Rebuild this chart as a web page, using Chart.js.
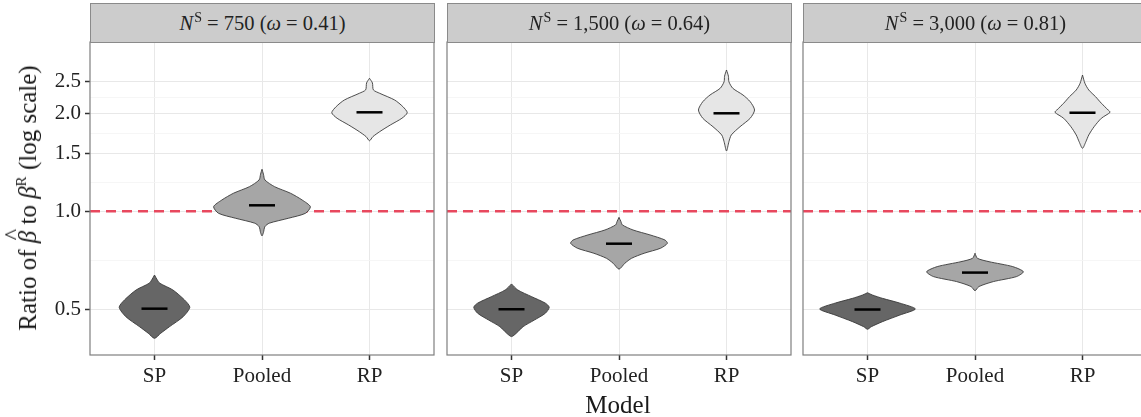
<!DOCTYPE html>
<html>
<head>
<meta charset="utf-8">
<script src="https://cdn.jsdelivr.net/npm/chart.js@4"></script>
<style>
body{margin:0;background:#fff}
#wrap{position:relative;width:1141px;height:417px;overflow:hidden;font-family:"Liberation Serif",serif;color:#1a1a1a}
canvas{position:absolute;top:0}
.strip{position:absolute;top:3px;height:40px;box-sizing:border-box;background:#cccccc;border:1px solid #8a8a8a;font-size:20.5px;text-align:center;line-height:38px;color:#222}
.strip sup{font-size:14px;vertical-align:0;position:relative;top:-8px;margin-left:1px}
#ytitle{position:absolute;left:28px;top:198px;transform:translate(-50%,-50%) rotate(-90deg);white-space:nowrap;font-size:25px}
#ytitle sup{font-size:15px;vertical-align:0;position:relative;top:-10px}
.hat{position:relative;display:inline-block}
.hat .h{position:absolute;left:3px;top:-15px;font-style:normal;font-size:24px}
#xtitle{position:absolute;left:618px;top:405px;transform:translate(-50%,-50%);font-size:25px}
</style>
</head>
<body>
<div id="wrap">
  <canvas id="c0" width="436" height="417" style="left:0"></canvas>
  <canvas id="c1" width="352" height="417" style="left:441px"></canvas>
  <canvas id="c2" width="352" height="417" style="left:797px"></canvas>
  <div class="strip" style="left:90px;width:345px"></div>
  <div class="strip" style="left:447px;width:345px"></div>
  <div class="strip" style="left:803px;width:345px"></div>
  <div id="ytitle">Ratio of <span class="hat"><i>β</i><span class="h">^</span></span> to <i>β</i><sup>R</sup> (log scale)</div>
  <div id="xtitle">Model</div>
</div>
<script>
const categories = ['SP', 'Pooled', 'RP'];
const sampleSizes = ['750', '1,500', '3,000'];
const omegas = ['0.41', '0.64', '0.81'];
const yTickLabels = [0.5, 1.0, 1.5, 2.0, 2.5];
const refLine = 1.0;

// medians per panel (SP, Pooled, RP)
const medians750 = [0.502, 1.043, 2.014];
const medians1500 = [0.500, 0.795, 2.000];
const medians3000 = [0.499, 0.648, 2.008];

// violin outlines: [ratio, relative width]
const sp750 = [[0.637,0],[0.618,0.05],[0.601,0.11],[0.573,0.38],[0.534,0.62],[0.507,0.73],[0.474,0.59],[0.442,0.31],[0.422,0.13],[0.407,0]];
const pooled750 = [[1.346,0],[1.30,0.03],[1.248,0.06],[1.19,0.26],[1.136,0.59],[1.083,0.83],[1.033,1.0],[0.986,0.9],[0.952,0.55],[0.919,0.15],[0.897,0.06],[0.86,0.03],[0.840,0]];
const rp750 = [[2.562,0],[2.48,0.06],[2.36,0.08],[2.304,0.21],[2.197,0.52],[2.096,0.69],[2.008,0.78],[1.931,0.67],[1.841,0.43],[1.756,0.21],[1.695,0.07],[1.647,0]];

const sp1500 = [[0.598,0],[0.573,0.13],[0.547,0.41],[0.522,0.70],[0.507,0.78],[0.486,0.70],[0.463,0.47],[0.442,0.24],[0.422,0.10],[0.412,0]];
const pooled1500 = [[0.958,0],[0.93,0.04],[0.908,0.07],[0.876,0.29],[0.846,0.64],[0.816,0.95],[0.797,1.0],[0.770,0.86],[0.743,0.52],[0.717,0.26],[0.692,0.12],[0.664,0]];
const rp1500 = [[2.717,0],[2.60,0.04],[2.500,0.05],[2.387,0.13],[2.277,0.34],[2.171,0.49],[2.047,0.58],[1.931,0.49],[1.819,0.28],[1.716,0.10],[1.636,0.05],[1.532,0]];

const sp3000 = [[0.562,0],[0.553,0.10],[0.540,0.31],[0.522,0.67],[0.501,0.99],[0.480,0.67],[0.458,0.31],[0.442,0.08],[0.434,0]];
const pooled3000 = [[0.743,0],[0.717,0.05],[0.700,0.29],[0.676,0.78],[0.652,1.0],[0.630,0.86],[0.608,0.38],[0.587,0.08],[0.570,0]];
const rp3000 = [[2.622,0],[2.473,0.05],[2.358,0.13],[2.249,0.27],[2.147,0.39],[2.047,0.53],[2.014,0.57],[1.931,0.39],[1.819,0.24],[1.716,0.13],[1.636,0.07],[1.561,0]];

const panels = [
  { violins: [sp750, pooled750, rp750], medians: medians750 },
  { violins: [sp1500, pooled1500, rp1500], medians: medians1500 },
  { violins: [sp3000, pooled3000, rp3000], medians: medians3000 },
];

const fills = ['#666666', '#a6a6a6', '#e6e6e6'];
const halfMax = 0.45; // violin width 0.9 of category spacing
const serif = "'Liberation Serif', serif";

// minor grid at geometric midpoints of the major ticks
const yMinor = yTickLabels.slice(1).map((v, i) => Math.sqrt(v * yTickLabels[i]));
const yGrid = [...yTickLabels, ...yMinor].sort((a, b) => a - b);
const isMajor = v => yTickLabels.some(t => Math.abs(t - v) < 1e-9);

document.querySelectorAll('.strip').forEach((el, i) => {
  el.innerHTML = `<i>N</i><sup>S</sup> = ${sampleSizes[i]} (<i>ω</i> = ${omegas[i]})`;
});

function outline(profile, c) {
  const right = profile.map(([v, w]) => ({ x: c + w * halfMax, y: v }));
  const left = profile.slice(0, -1).reverse().map(([v, w]) => ({ x: c - w * halfMax, y: v }));
  return right.concat(left);
}

const frame = {
  id: 'frame',
  afterDatasetsDraw(chart) {
    const { ctx, chartArea: a } = chart;
    ctx.save();
    ctx.strokeStyle = '#7f7f7f';
    ctx.lineWidth = 1.2;
    ctx.strokeRect(a.left, a.top, a.right - a.left, a.bottom - a.top);
    ctx.restore();
  }
};

function makePanel(id, p, first) {
  const panel = panels[p];
  const datasets = [{
    data: [{ x: -0.6, y: refLine }, { x: 2.6, y: refLine }],
    showLine: true, borderColor: '#e8485e', borderWidth: 2.4, borderDash: [10, 6],
    pointRadius: 0, order: 3
  }];
  panel.violins.forEach((prof, c) => {
    datasets.push({
      data: outline(prof, c), showLine: true, fill: 'shape',
      backgroundColor: fills[c], borderColor: '#3a3a3a', borderWidth: 0.9,
      pointRadius: 0, tension: 0.25, order: 2
    });
  });
  datasets.push({
    data: panel.medians.map((m, i) => ({ x: i, y: m })),
    showLine: false, pointStyle: 'line', pointRadius: 13, pointHoverRadius: 13,
    pointBorderColor: '#000', pointBorderWidth: 2.5, order: 1
  });

  new Chart(document.getElementById(id), {
    type: 'scatter',
    data: { datasets },
    options: {
      responsive: false, animation: false, devicePixelRatio: 1,
      layout: { autoPadding: false, padding: { top: 42, right: 2, left: first ? 0 : 6, bottom: 0 } },
      plugins: { legend: { display: false }, tooltip: { enabled: false } },
      scales: {
        x: {
          type: 'linear', min: -0.6, max: 2.6, bounds: 'data',
          afterBuildTicks: s => { s.ticks = categories.map((_, i) => ({ value: i })); },
          afterFit: s => { s.height = 62; },
          ticks: {
            autoSkip: false, padding: 4, color: '#222', maxRotation: 0,
            font: { family: serif, size: 21 },
            callback: v => categories[v]
          },
          grid: { color: '#e8e8e8', lineWidth: 1, tickLength: 5, tickColor: '#333', tickWidth: 1.5 },
          border: { display: false }
        },
        y: {
          type: 'logarithmic', min: 0.3617, max: 3.312, bounds: 'data',
          afterBuildTicks: s => { s.ticks = yGrid.map(v => ({ value: v })); },
          afterFit: s => { s.width = first ? 90 : 0; },
          ticks: {
            display: first, autoSkip: false, padding: 4, color: '#222',
            font: { family: serif, size: 21 },
            callback: v => isMajor(v) ? v.toFixed(1) : ''
          },
          grid: {
            drawTicks: first, tickLength: 5, tickWidth: 1.5,
            color: c => isMajor(c.tick.value) ? '#e8e8e8' : '#f4f4f4',
            lineWidth: c => isMajor(c.tick.value) ? 1 : 0.8,
            tickColor: c => isMajor(c.tick.value) ? '#333' : 'rgba(0,0,0,0)'
          },
          border: { display: false }
        }
      }
    },
    plugins: [frame]
  });
}

makePanel('c0', 0, true);
makePanel('c1', 1, false);
makePanel('c2', 2, false);
</script>
</body>
</html>
